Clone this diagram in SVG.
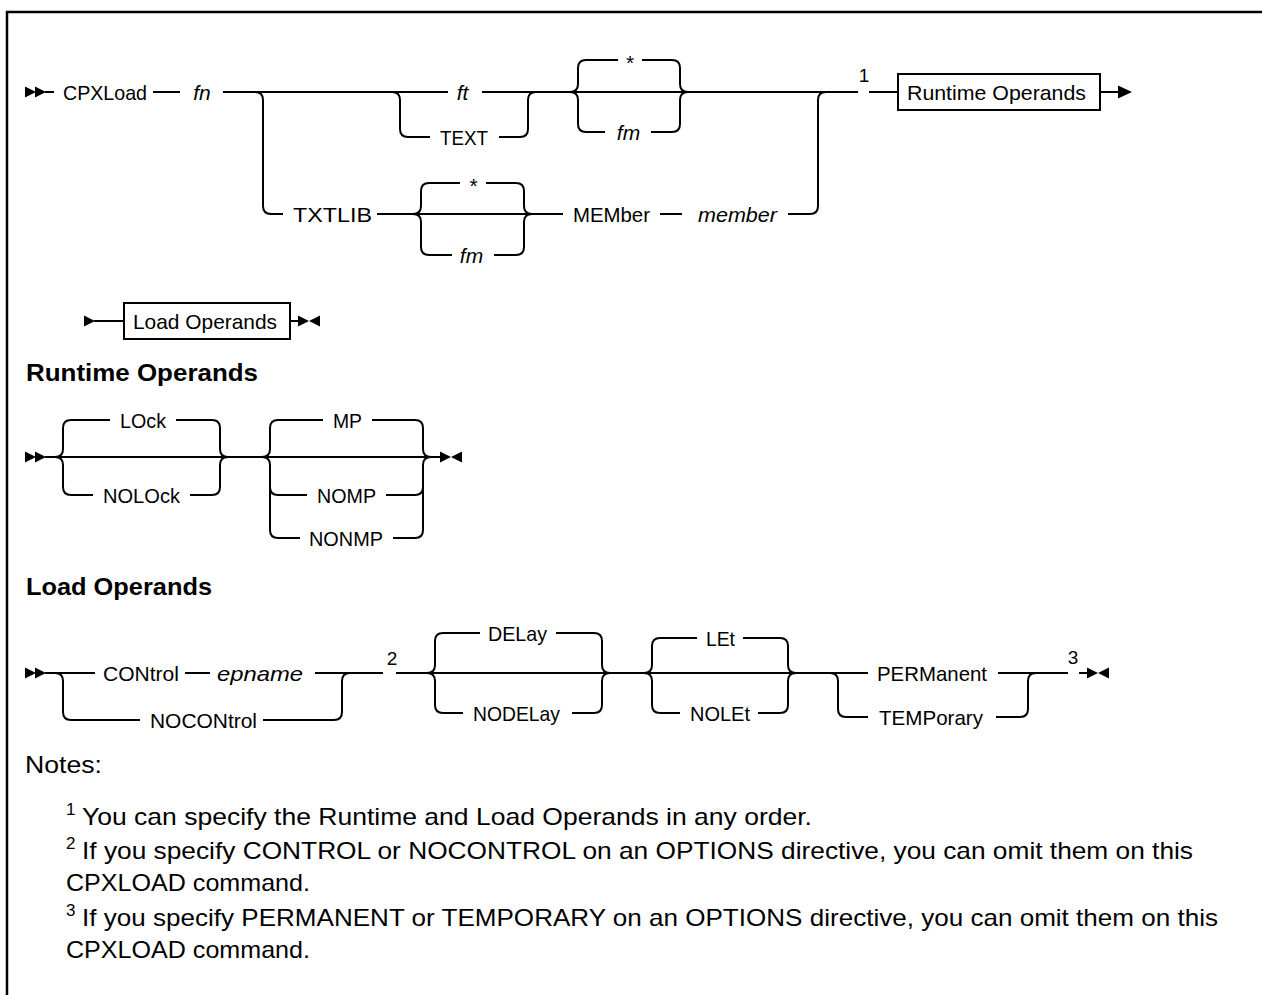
<svg xmlns="http://www.w3.org/2000/svg" width="1262" height="995" viewBox="0 0 1262 995">
<style>
.t{font-family:"Liberation Sans",Arial,sans-serif;font-size:21px;fill:#000}
.i{font-style:italic}
.h{font-family:"Liberation Sans",Arial,sans-serif;font-size:24px;font-weight:bold;fill:#000}
.n{font-family:"Liberation Sans",Arial,sans-serif;font-size:24px;fill:#000}
.s{font-family:"Liberation Sans",Arial,sans-serif;font-size:17px;fill:#000}
.d{font-family:"Liberation Sans",Arial,sans-serif;font-size:19px;fill:#000}
.c{fill:none;stroke:#000;stroke-width:2;stroke-linejoin:round}
.b{fill:#fff;stroke:#000;stroke-width:2}
.f{fill:#000;stroke:none}
</style>
<defs>
<path id="start2" d="M0,-5.5 L11,0 L0,5.5 Z M10,-5.5 L21,0 L10,5.5 Z"/>
<path id="start1" d="M0,-5.5 L11,0 L0,5.5 Z"/>
<path id="end2" d="M0,-5.5 L11,0 L0,5.5 Z M22,-5.5 L11,0 L22,5.5 Z"/>
<path id="arrow" d="M0,-6.5 L14,0 L0,6.5 Z"/>
</defs>
<rect width="1262" height="995" fill="#fff"/>
<path d="M7,995 V12 H1262" fill="none" stroke="#000" stroke-width="2.5"/>

<g id="connectors">
  <!-- row 1 -->
  <path class="c" d="M45,92 H54 M153,92 H180 M223,92 H448 M482,92 H858 M869,92 H898 M1100,92 H1118"/>
  <path class="c" d="M255,92 Q263,92 263,100 V206 Q263,214 271,214 H283 M377,214 H563 M660,214 H682 M788,214 H810 Q818,214 818,206 V100 Q818,92 826,92"/>
  <path class="c" d="M392,92 Q400,92 400,100 V129 Q400,137 408,137 H430 M499,137 H520 Q528,137 528,129 V100 Q528,92 536,92"/>
  <path class="c" d="M570,92 Q578,92 578,84 V68 Q578,60 586,60 H618 M642,60 H672 Q680,60 680,68 V84 Q680,92 688,92"/>
  <path class="c" d="M570,92 Q578,92 578,100 V124 Q578,132 586,132 H605 M651,132 H672 Q680,132 680,124 V100 Q680,92 688,92"/>
  <path class="c" d="M413,214 Q421,214 421,206 V191 Q421,183 429,183 H460 M486,183 H516 Q524,183 524,191 V206 Q524,214 532,214"/>
  <path class="c" d="M413,214 Q421,214 421,222 V247 Q421,255 429,255 H452 M494,255 H516 Q524,255 524,247 V222 Q524,214 532,214"/>
  <use href="#start2" class="f" x="25" y="92"/>
  <use href="#arrow" class="f" x="1118" y="92"/>
  <!-- row 2 -->
  <path class="c" d="M94,321 H124 M290,321 H298"/>
  <use href="#start1" class="f" x="84" y="321"/>
  <use href="#end2" class="f" x="298" y="321"/>
  <!-- row 3 -->
  <path class="c" d="M45,457 H442"/>
  <path class="c" d="M55,457 Q63,457 63,449 V428 Q63,420 71,420 H110 M176,420 H212 Q220,420 220,428 V449 Q220,457 228,457"/>
  <path class="c" d="M55,457 Q63,457 63,465 V487 Q63,495 71,495 H93 M190,495 H212 Q220,495 220,487 V465 Q220,457 228,457"/>
  <path class="c" d="M262,457 Q270,457 270,449 V428 Q270,420 278,420 H323 M372,420 H415 Q423,420 423,428 V449 Q423,457 431,457"/>
  <path class="c" d="M262,457 Q270,457 270,465 V530 Q270,538 278,538 H300 M270,487 Q270,495 278,495 H307 M386,495 H415 Q423,495 423,487 M393,538 H415 Q423,538 423,530 V465 Q423,457 431,457"/>
  <use href="#start2" class="f" x="25" y="457"/>
  <use href="#end2" class="f" x="440" y="457"/>
  <!-- row 4 -->
  <path class="c" d="M45,673 H95 M185,673 H210 M315,673 H383 M396,673 H868 M998,673 H1068 M1079,673 H1088"/>
  <path class="c" d="M55,673 Q63,673 63,681 V712 Q63,720 71,720 H140 M263,720 H334 Q342,720 342,712 V681 Q342,673 350,673"/>
  <path class="c" d="M427,673 Q435,673 435,665 V641 Q435,633 443,633 H480 M556,633 H594 Q602,633 602,641 V665 Q602,673 610,673"/>
  <path class="c" d="M427,673 Q435,673 435,681 V705 Q435,713 443,713 H463 M572,713 H594 Q602,713 602,705 V681 Q602,673 610,673"/>
  <path class="c" d="M644,673 Q652,673 652,665 V646 Q652,638 660,638 H697 M743,638 H780 Q788,638 788,646 V665 Q788,673 796,673"/>
  <path class="c" d="M644,673 Q652,673 652,681 V705 Q652,713 660,713 H680 M758,713 H780 Q788,713 788,705 V681 Q788,673 796,673"/>
  <path class="c" d="M830,673 Q838,673 838,681 V709 Q838,717 846,717 H868 M996,717 H1020 Q1028,717 1028,709 V681 Q1028,673 1036,673"/>
  <use href="#start2" class="f" x="25" y="673"/>
  <use href="#end2" class="f" x="1087" y="673"/>
</g>

<g id="n-cpxload"><text class="t" x="63" y="99.5" textLength="84" lengthAdjust="spacingAndGlyphs">CPXLoad</text></g>
<g id="n-fn"><text class="t i" x="202" y="99.5" text-anchor="middle">fn</text></g>
<g id="n-ft"><text class="t i" x="462.5" y="99.5" text-anchor="middle">ft</text></g>
<g id="n-text"><text class="t" x="440" y="144.5" textLength="48" lengthAdjust="spacingAndGlyphs">TEXT</text></g>
<g id="n-star1"><text class="t" x="630" y="70" text-anchor="middle">*</text></g>
<g id="n-fm1"><text class="t i" x="628.5" y="139.5" text-anchor="middle">fm</text></g>
<g id="n-txtlib"><text class="t" x="293" y="221.5" textLength="79" lengthAdjust="spacingAndGlyphs">TXTLIB</text></g>
<g id="n-star2"><text class="t" x="473.5" y="193" text-anchor="middle">*</text></g>
<g id="n-fm2"><text class="t i" x="471.5" y="262.5" text-anchor="middle">fm</text></g>
<g id="n-member-kw"><text class="t" x="573" y="221.5" textLength="77" lengthAdjust="spacingAndGlyphs">MEMber</text></g>
<g id="n-member"><text class="t i" x="698" y="221.5" textLength="79" lengthAdjust="spacingAndGlyphs">member</text></g>
<g id="n-note1"><text class="d" x="864" y="82" text-anchor="middle">1</text></g>
<g id="n-runtime-ref"><rect class="b" x="898" y="74" width="202" height="36"/><text class="t" x="907" y="99.5" textLength="179" lengthAdjust="spacingAndGlyphs">Runtime Operands</text></g>

<g id="n-load-ref"><rect class="b" x="124" y="303" width="166" height="36"/><text class="t" x="133" y="328.5" textLength="144" lengthAdjust="spacingAndGlyphs">Load Operands</text></g>

<g id="h-runtime"><text class="h" x="26" y="381" textLength="232" lengthAdjust="spacingAndGlyphs">Runtime Operands</text></g>
<g id="n-lock"><text class="t" x="120" y="427.5" textLength="46" lengthAdjust="spacingAndGlyphs">LOck</text></g>
<g id="n-nolock"><text class="t" x="103" y="502.5" textLength="77" lengthAdjust="spacingAndGlyphs">NOLOck</text></g>
<g id="n-mp"><text class="t" x="333" y="427.5" textLength="29" lengthAdjust="spacingAndGlyphs">MP</text></g>
<g id="n-nomp"><text class="t" x="317" y="502.5" textLength="59" lengthAdjust="spacingAndGlyphs">NOMP</text></g>
<g id="n-nonmp"><text class="t" x="309" y="545.5" textLength="74" lengthAdjust="spacingAndGlyphs">NONMP</text></g>

<g id="h-load"><text class="h" x="26" y="595" textLength="186" lengthAdjust="spacingAndGlyphs">Load Operands</text></g>
<g id="n-control"><text class="t" x="103" y="680.5" textLength="76" lengthAdjust="spacingAndGlyphs">CONtrol</text></g>
<g id="n-epname"><text class="t i" x="217" y="680.5" textLength="86" lengthAdjust="spacingAndGlyphs">epname</text></g>
<g id="n-nocontrol"><text class="t" x="150" y="727.5" textLength="107" lengthAdjust="spacingAndGlyphs">NOCONtrol</text></g>
<g id="n-note2"><text class="d" x="392" y="665" text-anchor="middle">2</text></g>
<g id="n-delay"><text class="t" x="488" y="640.5" textLength="59" lengthAdjust="spacingAndGlyphs">DELay</text></g>
<g id="n-nodelay"><text class="t" x="473" y="720.5" textLength="87" lengthAdjust="spacingAndGlyphs">NODELay</text></g>
<g id="n-let"><text class="t" x="706" y="645.5" textLength="29" lengthAdjust="spacingAndGlyphs">LEt</text></g>
<g id="n-nolet"><text class="t" x="690" y="720.5" textLength="60" lengthAdjust="spacingAndGlyphs">NOLEt</text></g>
<g id="n-permanent"><text class="t" x="877" y="680.5" textLength="110" lengthAdjust="spacingAndGlyphs">PERManent</text></g>
<g id="n-temporary"><text class="t" x="879" y="724.5" textLength="104" lengthAdjust="spacingAndGlyphs">TEMPorary</text></g>
<g id="n-note3"><text class="d" x="1073" y="664" text-anchor="middle">3</text></g>

<g id="notes">
  <text class="n" x="25" y="773" textLength="77" lengthAdjust="spacingAndGlyphs">Notes:</text>
  <text class="s" x="66" y="815">1</text>
  <text class="n" x="82" y="825" textLength="730" lengthAdjust="spacingAndGlyphs">You can specify the Runtime and Load Operands in any order.</text>
  <text class="s" x="66" y="849">2</text>
  <text class="n" x="82" y="859" textLength="1111" lengthAdjust="spacingAndGlyphs">If you specify CONTROL or NOCONTROL on an OPTIONS directive, you can omit them on this</text>
  <text class="n" x="66" y="891" textLength="244" lengthAdjust="spacingAndGlyphs">CPXLOAD command.</text>
  <text class="s" x="66" y="916">3</text>
  <text class="n" x="82" y="926" textLength="1136" lengthAdjust="spacingAndGlyphs">If you specify PERMANENT or TEMPORARY on an OPTIONS directive, you can omit them on this</text>
  <text class="n" x="66" y="958" textLength="244" lengthAdjust="spacingAndGlyphs">CPXLOAD command.</text>
</g>
</svg>
